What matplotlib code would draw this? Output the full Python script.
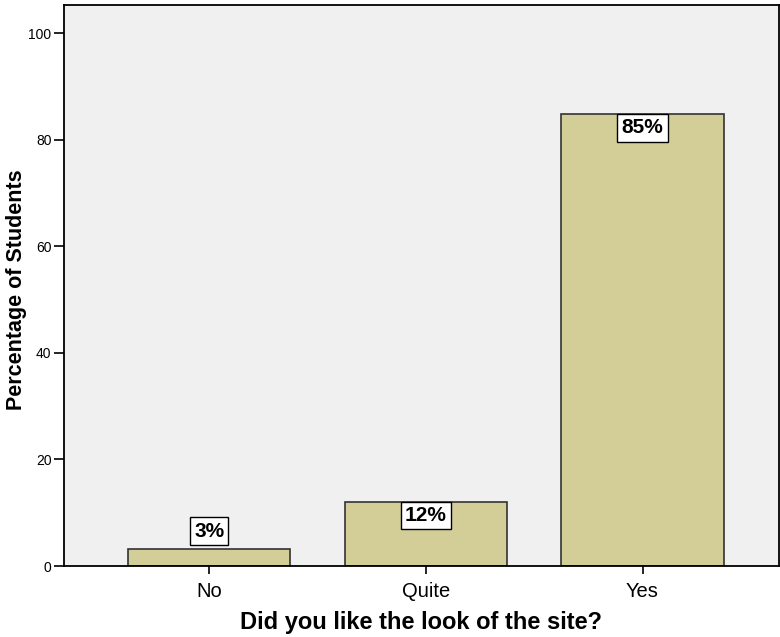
import matplotlib
matplotlib.use("Agg")
import matplotlib.pyplot as plt

categories = ["No", "Quite", "Yes"]
values = [3.1, 12.1, 84.8]
labels = ["3%", "12%", "85%"]
yticks = [0, 20, 40, 60, 80, 100]

plt.rcParams['font.family'] = ['Liberation Sans', 'DejaVu Sans']

fig = plt.figure(figsize=(7.8, 6.37), dpi=100)
W, H = 780, 637
ax = fig.add_axes([64/W, 1-566/H, (779-64)/W, (566-5)/H])
ax.set_facecolor('#F0F0F0')

x = list(range(len(categories)))
ax.bar(x, values, width=0.75, color='#D3CE97', edgecolor='#333333', linewidth=1.2, zorder=2)

fs = 15
pad = 0.2
for xi, v, lab in zip(x, values, labels):
    if v < 6:
        off, va = 3.4 + pad * fs, 'bottom'
    else:
        off, va = -pad * fs, 'top'
    ax.annotate(lab, (xi, v), xytext=(0, off), textcoords='offset points',
                ha='center', va=va, fontsize=fs, fontweight='bold', zorder=3,
                bbox=dict(boxstyle=f'square,pad={pad}', fc='white', ec='black', lw=1))

ax.set_xlim(-0.67, 2.63)
ax.set_ylim(0, 105.3)
ax.set_yticks(yticks)
ax.set_xticks(x)
ax.set_xticklabels(categories, fontsize=14.5)
ax.tick_params(axis='y', labelsize=10, length=7, width=1.2, pad=2)
ax.tick_params(axis='x', length=6, width=1.2, pad=5.5)
for s in ax.spines.values():
    s.set_linewidth(1.3)
    s.set_color('black')

ax.set_xlabel("Did you like the look of the site?", fontsize=17, fontweight='bold', labelpad=7)
ax.set_ylabel("Percentage of Students", fontsize=15.5, fontweight='bold')
ax.yaxis.set_label_coords(-0.052, 0.492)

fig.savefig("out.png", dpi=100)
